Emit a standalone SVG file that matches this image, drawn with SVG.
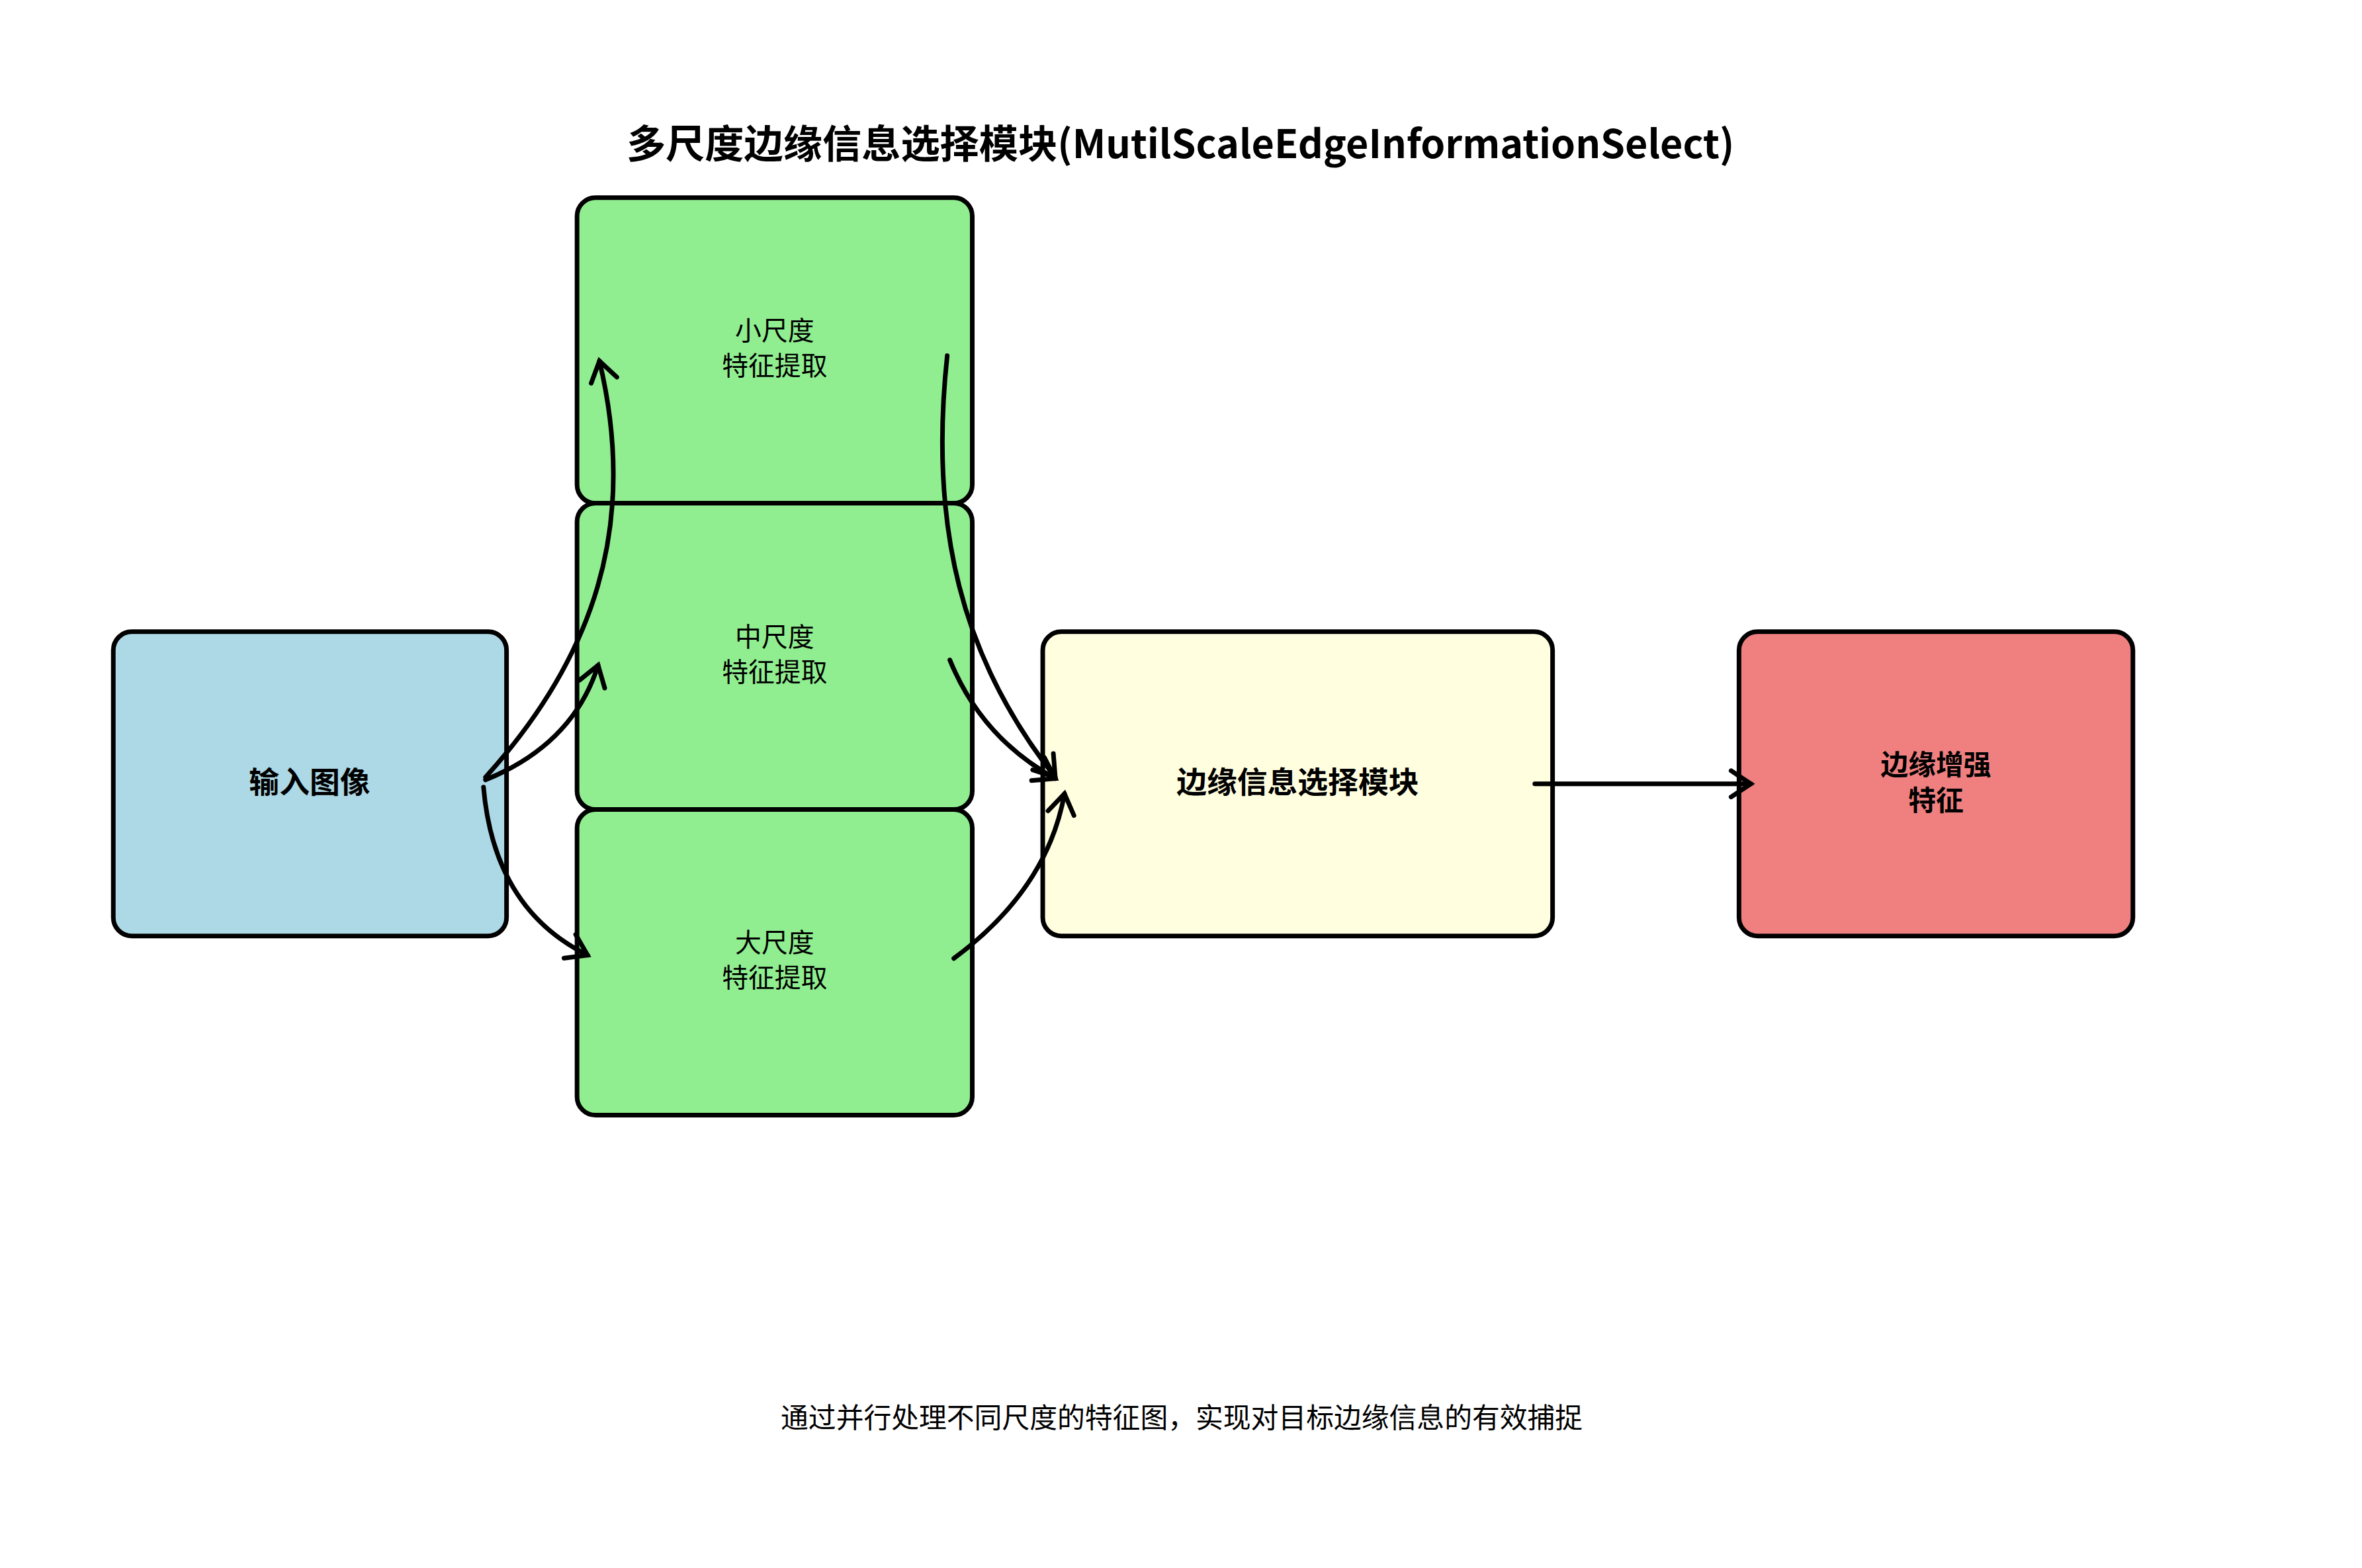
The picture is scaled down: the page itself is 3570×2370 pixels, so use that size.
<svg xmlns="http://www.w3.org/2000/svg" width="3570" height="2370" viewBox="0 0 3570 2370">
<style>
.box{stroke:#000;stroke-width:7}
.t{font-family:"Noto Sans CJK SC","Liberation Sans",sans-serif;text-anchor:middle;fill:#000}
.b{font-weight:bold;font-size:46px}
.r{font-weight:bold;font-size:42px}
.n{font-size:40px}
.c{fill:none;stroke:#000;stroke-width:7;stroke-linecap:round}
</style>
<defs>
<marker id="a" markerUnits="userSpaceOnUse" viewBox="-40 -30 50 60" markerWidth="50" markerHeight="60" refX="0" refY="0" orient="auto">
<path d="M-30,-20 L0,0 L-30,20" fill="none" stroke="#000" stroke-width="7" stroke-linecap="round"/>
</marker>
</defs>
<rect width="3570" height="2370" fill="#fff"/>
<g transform="scale(0.9956)">
<text class="t" x="1792" y="240" style="font-weight:bold;font-size:59.5px">多尺度边缘信息选择模块(MutilScaleEdgeInformationSelect)</text>
<g id="input"><rect class="box" x="172" y="959" width="597" height="462" rx="28" fill="#add8e6"/><text class="t b" x="470" y="1204">输入图像</text></g>
<g id="small"><rect class="box" x="876" y="300" width="600" height="464" rx="28" fill="#90ee90"/><text class="t n" x="1176" y="516">小尺度</text><text class="t n" x="1176" y="570">特征提取</text></g>
<g id="mid"><rect class="box" x="876" y="764" width="600" height="465" rx="28" fill="#90ee90"/><text class="t n" x="1176" y="981">中尺度</text><text class="t n" x="1176" y="1035">特征提取</text></g>
<g id="large"><rect class="box" x="876" y="1229" width="600" height="464" rx="28" fill="#90ee90"/><text class="t n" x="1176" y="1445">大尺度</text><text class="t n" x="1176" y="1499">特征提取</text></g>
<g id="select"><rect class="box" x="1583" y="959" width="774" height="462" rx="28" fill="#ffffe0"/><text class="t b" x="1970" y="1204">边缘信息选择模块</text></g>
<g id="output"><rect class="box" x="2640" y="959" width="598" height="462" rx="28" fill="#f08080"/><text class="t r" x="2939" y="1176">边缘增强</text><text class="t r" x="2939" y="1230">特征</text></g>
<g id="connectors">
<path class="c" marker-end="url(#a)" d="M737,1180 C900,1000 970,800 910,548"/>
<path class="c" marker-end="url(#a)" d="M737,1184 Q870,1130 908,1010"/>
<path class="c" marker-end="url(#a)" d="M734,1195 Q750,1380 892,1450"/>
<path class="c" marker-end="url(#a)" d="M1438,540 C1410,800 1460,1000 1602,1180"/>
<path class="c" marker-end="url(#a)" d="M1442,1002 Q1490,1120 1602,1182"/>
<path class="c" marker-end="url(#a)" d="M1448,1455 Q1590,1350 1616,1205"/>
<path class="c" marker-end="url(#a)" d="M2330,1190 L2658,1190"/>
</g>
<text class="t" x="1794" y="2168" style="font-size:42px">通过并行处理不同尺度的特征图，实现对目标边缘信息的有效捕捉</text>
</g>
</svg>
